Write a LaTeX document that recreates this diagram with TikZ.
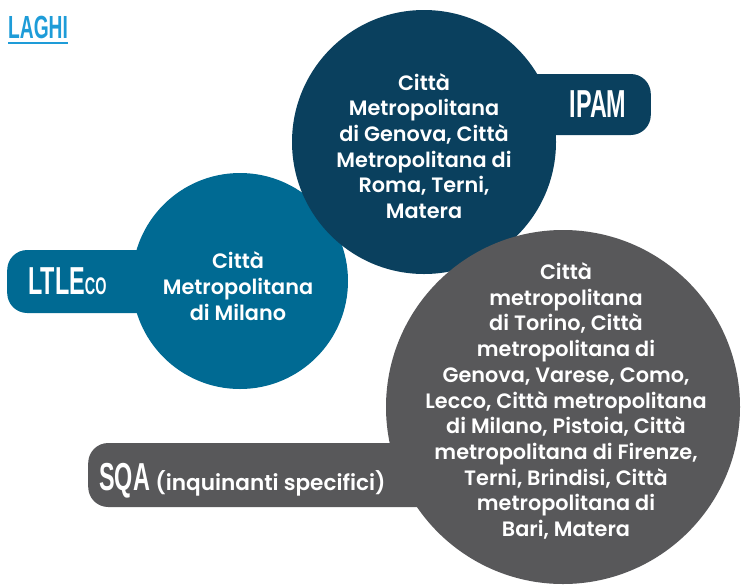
\documentclass[tikz,border=0pt]{standalone}
\usepackage{fontspec}
\setmainfont{Poppins}[UprightFont=* Medium, BoldFont=* SemiBold]
\newfontfamily\condfont{Liberation Sans}[FakeStretch=0.6]
\definecolor{ipamblue}{HTML}{0A405E}
\definecolor{ltleblue}{HTML}{006A93}
\definecolor{sqagray}{HTML}{58585A}
\definecolor{titleblue}{HTML}{1E9CD8}

\begin{document}
\begin{tikzpicture}[
    x=1pt, y=-1pt,
    disc/.style={circle, inner sep=0pt},
    tab/.style={inner sep=0pt, rounded corners=20pt},
    circtext/.style={text=white, align=center, font=\bfseries\fontsize{20.8}{25.7}\selectfont},
    tag/.style={text=white, inner sep=0pt, font=\condfont\bfseries\fontsize{39}{39}\selectfont},
  ]
    \useasboundingbox (0,0) rectangle (741,587);

    % title
    \node[anchor=west, inner sep=0pt, text=titleblue, font=\condfont\bfseries\fontsize{32}{32}\selectfont] (title) at (8,27.5) {LAGHI};
    \draw[titleblue, line width=2pt] ([yshift=-3.5pt]title.south west) -- ([yshift=-3.5pt]title.south east);

    % LTLEco
    \node[tab, fill=ltleblue, minimum width=160pt, minimum height=63pt, anchor=west] (ltletab) at (7,281.5) {};
    \node[disc, fill=ltleblue, minimum size=216pt] (ltle) at (240,281) {};

    % IPAM
    \node[tab, fill=ipamblue, minimum width=150pt, minimum height=61pt, anchor=east] (ipamtab) at (651,104.5) {};
    \node[disc, fill=ipamblue, minimum size=264pt] (ipam) at (424,142) {};

    % SQA
    \node[tab, fill=sqagray, minimum width=360pt, minimum height=64pt, anchor=west] (sqatab) at (88,475) {};
    \node[disc, fill=sqagray, minimum size=354pt] (sqa) at (563,407) {};

    \node[circtext] (ltletxt) at (238,286) {Città\\Metropolitana\\di Milano};
    \node[circtext] (ipamtxt) at (424,146) {Città\\Metropolitana\\di Genova, Città\\Metropolitana di\\Roma, Terni,\\Matera};
    \node[circtext] (sqatxt) at (566,401) {Città\\metropolitana\\di Torino, Città\\metropolitana di\\Genova, Varese, Como,\\Lecco, Città metropolitana\\di Milano, Pistoia, Città\\metropolitana di Firenze,\\Terni, Brindisi, Città\\metropolitana di\\Bari, Matera};

    \node[tag, anchor=west] (ltlelab) at (28,281) {LTLE{\fontsize{24}{24}\selectfont CO}};
    \node[tag] (ipamlab) at (598,104) {IPAM};
    \node[tag, anchor=base west] (sqalab) at (99,490) {SQA\hspace{-1pt} {\normalfont\bfseries\fontsize{21.6}{21.6}\selectfont (inquinanti specifici)}};
\end{tikzpicture}
\end{document}
